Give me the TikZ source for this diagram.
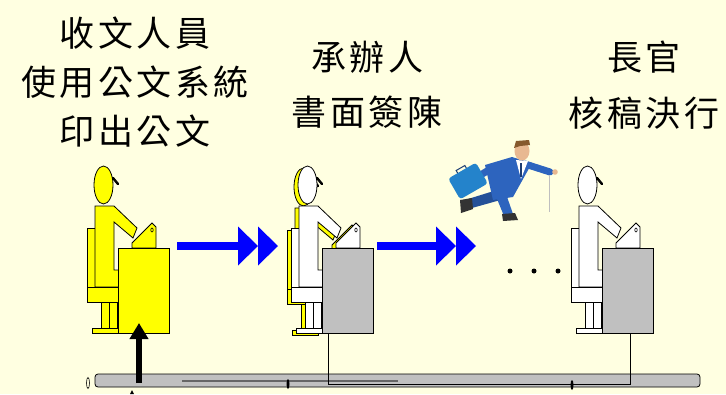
\documentclass[tikz,border=0pt]{standalone}
\usepackage{fontspec}
\newfontfamily\cjk[LetterSpace=10]{Noto Sans CJK TC}
\usetikzlibrary{arrows.meta,positioning}
\definecolor{myCream}{RGB}{255,255,225}
\definecolor{myYellow}{RGB}{255,255,0}
\definecolor{myGray}{RGB}{192,192,192}
\definecolor{myBlue}{RGB}{0,0,255}
\definecolor{suitBlue}{RGB}{45,100,190}
\definecolor{skin}{RGB}{232,184,145}
\tikzset{
    caption/.style={font=\cjk\fontsize{35}{49}\selectfont, align=center, inner sep=0pt},
    desk/.style={draw, line width=0.8pt, minimum width=51pt, minimum height=85pt,
        inner sep=0pt, anchor=north west},
    flow/.style={myBlue, line width=8pt},
    % seated clerk, origin at the top left corner of the desk
    clerk/.pic={
        \path[pic actions, draw, line width=0.8pt] (-31,-20) rectangle (-23,39);
        \path[pic actions, draw, line width=0.8pt] (-23,-42) -- (-4,-42) -- (19,-20)
            -- (15,-10) -- (-4,-26) -- (-4,22) -- (7,22) -- (7,39) -- (-23,39) -- cycle;
        \path[pic actions, draw, line width=0.8pt] (-31,39) rectangle (0,54);
        \path[pic actions, draw, line width=0.8pt] (-17,54) rectangle (-1,80);
        \draw[line width=0.6pt] (-9,54) -- (-9,80);
        \path[pic actions, draw, line width=0.8pt] (-26,80) rectangle (0,85);
        \path[pic actions, draw, line width=0.8pt] (14,0) -- (14,-5) -- (34,-25)
            -- (38,-21) -- (38,0) -- cycle;
        \draw[line width=0.6pt] (34,-18) ellipse (1.2 and 2);
        \path[pic actions, draw, line width=0.8pt] (-14.5,-63) ellipse (9.5 and 19);
        \draw[line width=2.4pt, line cap=round] (-5,-70) -- (0,-64);
        \draw[pic actions, line width=0.9pt, line cap=round] (-5,-70) -- (0,-64);
    },
}

\begin{document}
\begin{tikzpicture}[x=1pt, y=-1pt]
    \fill[myCream] (0,0) rectangle (726,394);
    \useasboundingbox (0,0) rectangle (726,394);

    % captions above each desk
    \node[caption] (clerkText) at (135,82) {收文人員\\使用公文系統\\印出公文};
    \node[caption, font=\cjk\fontsize{35}{55}\selectfont] (officerText) at (367,85)
        {承辦人\\書面簽陳};
    \node[caption, font=\cjk\fontsize{35}{56}\selectfont] (chiefText) at (644,85)
        {長官\\核稿決行};

    % network cable
    \draw[fill=myGray, line width=0.8pt, rounded corners=3pt] (95,374) rectangle (700,387);
    \draw[line width=0.6pt] (88,383) ellipse (1.5 and 5.5);
    \draw[black!60, line width=1.5pt] (182,381) -- (398,381);
    \fill (288,384) ellipse (1.5 and 5);
    \fill (572,385) ellipse (1.5 and 5);
    \fill (130,394) -- (132,390) -- (134,394) -- cycle;

    % the three clerks
    \pic[fill=myYellow] at (118,248) {clerk};
    \node[desk, fill=myYellow] (desk1) at (118,248) {};

    \pic[fill=myYellow] at (318,250) {clerk};
    \pic[fill=white] at (322,248) {clerk};
    \node[desk, fill=myGray] (desk2) at (322,248) {};

    \pic[fill=white] at (602,248) {clerk};
    \node[desk, fill=myGray] (desk3) at (602,248) {};

    % desks 2 and 3 on the cable
    \draw[line width=0.8pt] ([xshift=6pt]desk2.south west) -- ++(0,51)
        -| ([xshift=28pt]desk3.south west);

    % printout coming up from the cable
    \coordinate (feed) at (139,383);
    \coordinate (print) at (139,323);
    \draw[line width=6pt, -{Triangle[length=16pt,width=18pt]}] (feed) -- (print);

    % hand over to the next desk
    \coordinate (out1) at (177,246);
    \coordinate (in2) at (278,246);
    \coordinate (out2) at (377,246);
    \coordinate (in3) at (476,246);
    \foreach \a/\b in {out1/in2,out2/in3}{
        \draw[flow] (\a) -- ([xshift=-39pt]\b);
        \fill[myBlue] (\b) -- ++(-20,-19.5) -- ++(0,39) -- cycle;
        \fill[myBlue] ([xshift=-20pt]\b) -- ++(-20,-19.5) -- ++(0,39) -- cycle;
    }

    % more steps
    \foreach \x in {510,534,558}
        \fill (\x,271) circle (2.5);

    % running messenger
    \fill[suitBlue!80!black] (497,190) -- (504,199) -- (472,208) -- (468,199) -- cycle;
    \fill[black!80] (460,200) -- (472,198) -- (473,209) -- (461,213) -- cycle;
    \fill[suitBlue] (495,194) -- (505,191) -- (513,214) -- (504,216) -- cycle;
    \fill[black!80] (502,214) -- (515,213) -- (518,220) -- (503,221) -- cycle;
    \fill[suitBlue] (485,165) -- (512,157) -- (532,163) -- (513,197) -- (493,200) -- cycle;
    \draw[suitBlue, line width=7pt, line cap=round] (525,164) -- (550,172);
    \draw[suitBlue, line width=7pt, line cap=round] (492,168) -- (479,176);
    \fill[skin] (555,172) circle (2.8);
    \fill[white] (516,160) -- (528,161) -- (521,179) -- cycle;
    \draw[suitBlue!60!black, line width=1.5pt] (521,163) -- (521,177);
    \fill[skin] (522,151) ellipse (7.5 and 9.5);
    \fill[brown!70!black] (514,148) -- (516,141) -- (529,140) -- (530,145) -- (520,146) -- cycle;
    \fill[suitBlue!80!cyan, rounded corners=3pt, rotate around={30:(468,181)}]
        (452,169) rectangle (484,193);
    \draw[suitBlue!60!black, line width=1pt, rotate around={30:(468,181)}]
        (463,169) -- (463,166) -- (473,166) -- (473,169);
    \draw[black!25] (549,175) -- (549,212);
\end{tikzpicture}
\end{document}
